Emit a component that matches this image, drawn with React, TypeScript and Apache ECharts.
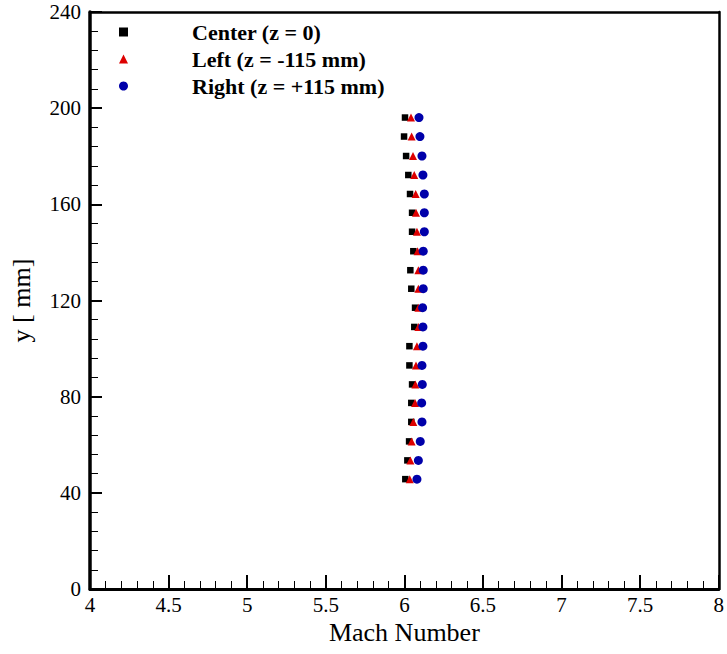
import React, { useEffect, useRef } from "react";
import * as echarts from "echarts";

const yPositions = [45.7, 53.5, 61.4, 69.5, 77.4, 85.1, 93.0, 101.0, 109.0, 117.0, 124.9, 132.6, 140.5, 148.6, 156.5, 164.3, 172.2, 180.1, 188.2, 196.1];
const centerMach = [6.006, 6.019, 6.03, 6.044, 6.044, 6.049, 6.032, 6.032, 6.063, 6.068, 6.044, 6.038, 6.057, 6.049, 6.049, 6.036, 6.025, 6.011, 5.998, 6.004];
const leftMach = [6.034, 6.038, 6.046, 6.057, 6.068, 6.07, 6.074, 6.08, 6.089, 6.089, 6.089, 6.089, 6.084, 6.08, 6.074, 6.072, 6.063, 6.055, 6.046, 6.042];
const rightMach = [6.08, 6.089, 6.101, 6.112, 6.11, 6.114, 6.112, 6.118, 6.118, 6.116, 6.12, 6.12, 6.12, 6.127, 6.127, 6.127, 6.118, 6.112, 6.099, 6.093];
const seriesNames = ["Center (z = 0)", "Left (z = -115 mm)", "Right (z = +115 mm)"];
const xTickLabels = ["4", "4.5", "5", "5.5", "6", "6.5", "7", "7.5", "8"];
const yTickLabels = ["0", "40", "80", "120", "160", "200", "240"];

const FONT = "Liberation Serif";

export default function App() {
  const ref = useRef<HTMLDivElement>(null);
  useEffect(() => {
    if (!ref.current) return;
    const chart = echarts.init(ref.current, null, { renderer: "svg" });
    const pair = (xs: number[]) => xs.map((x, i) => [x, yPositions[i]]);
    chart.setOption({
      animation: false,
      backgroundColor: "#ffffff",
      textStyle: { fontFamily: FONT },
      grid: { left: 89, right: 6, top: 12, bottom: 65, containLabel: false },
      legend: {
        orient: "vertical",
        left: 119,
        top: 21,
        padding: 0,
        itemGap: 5,
        itemWidth: 9,
        itemHeight: 9,
        data: seriesNames,
        textStyle: {
          fontFamily: FONT,
          fontWeight: "bold",
          fontSize: 22,
          lineHeight: 22,
          color: "#000",
          padding: [0, 0, 0, 59],
        },
      },
      xAxis: [
        {
          type: "value",
          min: 4,
          max: 8,
          interval: 0.5,
          name: "Mach Number",
          nameLocation: "middle",
          nameGap: 28,
          nameTextStyle: { fontFamily: FONT, fontSize: 26, color: "#000" },
          axisLine: { show: true, onZero: false, lineStyle: { color: "#000", width: 3 } },
          axisTick: { show: true, inside: true, length: 14, lineStyle: { color: "#000", width: 2 } },
          minorTick: { show: true, splitNumber: 5, length: 8, lineStyle: { color: "#000", width: 1 } },
          axisLabel: {
            fontFamily: FONT,
            fontSize: 21,
            color: "#000",
            margin: 5,
            formatter: (v: number) => xTickLabels[Math.round((v - 4) / 0.5)] ?? String(v),
          },
          splitLine: { show: false },
          minorSplitLine: { show: false },
        },
        {
          type: "value",
          position: "top",
          min: 4,
          max: 8,
          axisLine: { show: true, onZero: false, lineStyle: { color: "#000", width: 2.5 } },
          axisTick: { show: false },
          axisLabel: { show: false },
          splitLine: { show: false },
        },
      ],
      yAxis: [
        {
          type: "value",
          min: 0,
          max: 240,
          interval: 40,
          name: "y [ mm]",
          nameLocation: "middle",
          nameGap: 56,
          nameTextStyle: { fontFamily: FONT, fontSize: 26, color: "#000" },
          axisLine: { show: true, onZero: false, lineStyle: { color: "#000", width: 3.5 } },
          axisTick: { show: true, inside: true, length: 12, lineStyle: { color: "#000", width: 2 } },
          minorTick: { show: true, splitNumber: 5, length: 8, lineStyle: { color: "#000", width: 1 } },
          axisLabel: {
            fontFamily: FONT,
            fontSize: 21,
            color: "#000",
            margin: 9,
            formatter: (v: number) => yTickLabels[Math.round(v / 40)] ?? String(v),
          },
          splitLine: { show: false },
          minorSplitLine: { show: false },
        },
        {
          type: "value",
          position: "right",
          min: 0,
          max: 240,
          axisLine: { show: true, onZero: false, lineStyle: { color: "#000", width: 2.5 } },
          axisTick: { show: false },
          axisLabel: { show: false },
          splitLine: { show: false },
        },
      ],
      series: [
        {
          name: seriesNames[0],
          type: "scatter",
          symbol: "rect",
          symbolSize: 6.5,
          itemStyle: { color: "#000000", opacity: 1 },
          data: pair(centerMach),
          z: 3,
        },
        {
          name: seriesNames[1],
          type: "scatter",
          symbol: "triangle",
          symbolSize: 8,
          itemStyle: { color: "#dd0000", opacity: 1 },
          data: pair(leftMach),
          z: 4,
        },
        {
          name: seriesNames[2],
          type: "scatter",
          symbol: "circle",
          symbolSize: 9,
          itemStyle: { color: "#0000aa", opacity: 1 },
          data: pair(rightMach),
          z: 5,
        },
      ],
    });
    return () => chart.dispose();
  }, []);
  return (
    <div
      ref={ref}
      style={{ position: "fixed", left: 0, top: 0, width: 727, height: 654 }}
    />
  );
}
